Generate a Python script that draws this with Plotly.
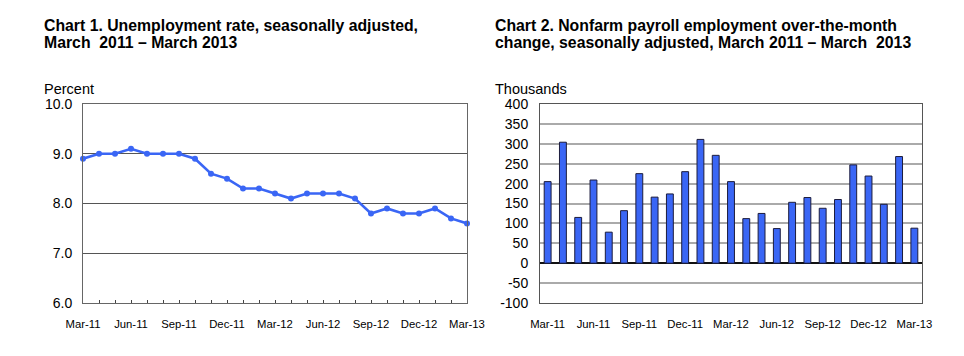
import plotly.graph_objects as go

months = ["Mar-11","Apr-11","May-11","Jun-11","Jul-11","Aug-11","Sep-11","Oct-11","Nov-11","Dec-11",
          "Jan-12","Feb-12","Mar-12","Apr-12","May-12","Jun-12","Jul-12","Aug-12","Sep-12","Oct-12",
          "Nov-12","Dec-12","Jan-13","Feb-13","Mar-13"]
unemployment = [8.9, 9.0, 9.0, 9.1, 9.0, 9.0, 9.0, 8.9, 8.6, 8.5,
                8.3, 8.3, 8.2, 8.1, 8.2, 8.2, 8.2, 8.1, 7.8, 7.9,
                7.8, 7.8, 7.9, 7.7, 7.6]
payroll = [205, 304, 115, 209, 78, 132, 225, 166, 174, 230,
           311, 271, 205, 112, 125, 87, 153, 165, 138, 160,
           247, 219, 148, 268, 88]
tick_labels = [m if i % 3 == 0 else "" for i, m in enumerate(months)]
payroll_ticks = [-100, -50, 0, 50, 100, 150, 200, 250, 300, 350, 400]
payroll_tick_labels = ["-100", "-50", "0", "50", "100", "150", "200", "250", "300", "350", "400"]

OFF = 8  # page body margin
W, H = 964 - 2 * OFF, 356 - 2 * OFF
def fx(px): return (px - OFF) / W
def fy(py): return (H - (py - OFF)) / H

blue = "rgb(58,102,245)"
fig = go.Figure()
fig.add_trace(go.Scatter(x=months, y=unemployment, mode="lines+markers",
                         line=dict(color=blue, width=2.6), marker=dict(color=blue, size=6),
                         cliponaxis=False, xaxis="x", yaxis="y", showlegend=False))
fig.add_trace(go.Bar(x=months, y=payroll, marker=dict(color=blue, line=dict(color="#1c1c3c", width=1)),
                     width=0.45, xaxis="x2", yaxis="y2", showlegend=False))

font_tick = dict(family="Liberation Sans, Arial", size=14, color="#000")
font_xtick = dict(family="Liberation Sans, Arial", size=11.3, color="#000")
fig.update_layout(
    width=W, height=H, margin=dict(l=0, r=0, t=0, b=0, autoexpand=False),
    paper_bgcolor="white", plot_bgcolor="white",
    font=dict(family="Liberation Sans, Arial", color="#000"),
    xaxis=dict(domain=[fx(83), fx(467)], type="category", range=[0, 24], automargin=False,
               tickvals=months, ticktext=tick_labels, ticks="inside", ticklen=3, tickcolor="#444",
               showgrid=False, showline=True, linecolor="#666", linewidth=1, mirror=True,
               tickfont=font_xtick, ticklabelstandoff=10, anchor="y"),
    yaxis=dict(domain=[fy(303), fy(104)], range=[6, 10], dtick=1, tickformat=".1f", automargin=False,
               showgrid=True, gridcolor="#555", gridwidth=1, zeroline=False,
               showline=True, linecolor="#666", linewidth=1, mirror=True,
               ticks="", tickfont=font_tick, ticklabelstandoff=7, anchor="x"),
    xaxis2=dict(domain=[fx(540), fx(922)], type="category", range=[-0.5, 24.5], automargin=False,
                tickvals=months, ticktext=tick_labels, ticks="",
                showgrid=False, showline=True, linecolor="#555", linewidth=1, mirror=True,
                tickfont=font_xtick, ticklabelstandoff=10, anchor="y2"),
    yaxis2=dict(domain=[fy(303), fy(104)], range=[-100, 400], automargin=False,
                tickvals=payroll_ticks, ticktext=payroll_tick_labels,
                showgrid=True, gridcolor="#aaa", gridwidth=1.5, zeroline=True, zerolinecolor="#111",
                zerolinewidth=1.5, showline=True, linecolor="#555", linewidth=1, mirror=True,
                ticks="", tickfont=font_tick, ticklabelstandoff=8, anchor="x2"),
    bargap=0.55,
)
title_font = dict(family="Liberation Sans, Arial", size=15.8, color="#000")
titles = [
    (42, "<b>Chart 1. Unemployment rate, seasonally adjusted,</b>", "<b>March  2011 – March 2013</b>"),
    (493, "<b>Chart 2. Nonfarm payroll employment over-the-month</b>",
     "<b>change, seasonally adjusted, March 2011 – March  2013</b>"),
]
for xpx, l1, l2 in titles:
    for ypx, txt in ((25, l1), (43, l2)):
        fig.add_annotation(x=fx(xpx), y=fy(ypx), xref="paper", yref="paper", xanchor="left",
                           yanchor="middle", showarrow=False, font=title_font, text=txt)
lab_font = dict(family="Liberation Sans, Arial", size=14.5, color="#000")
fig.add_annotation(x=fx(42), y=fy(89), xref="paper", yref="paper", xanchor="left", yanchor="middle",
                   showarrow=False, font=lab_font, text="Percent")
fig.add_annotation(x=fx(493), y=fy(89), xref="paper", yref="paper", xanchor="left", yanchor="middle",
                   showarrow=False, font=lab_font, text="Thousands")

fig.write_html("out.html")
